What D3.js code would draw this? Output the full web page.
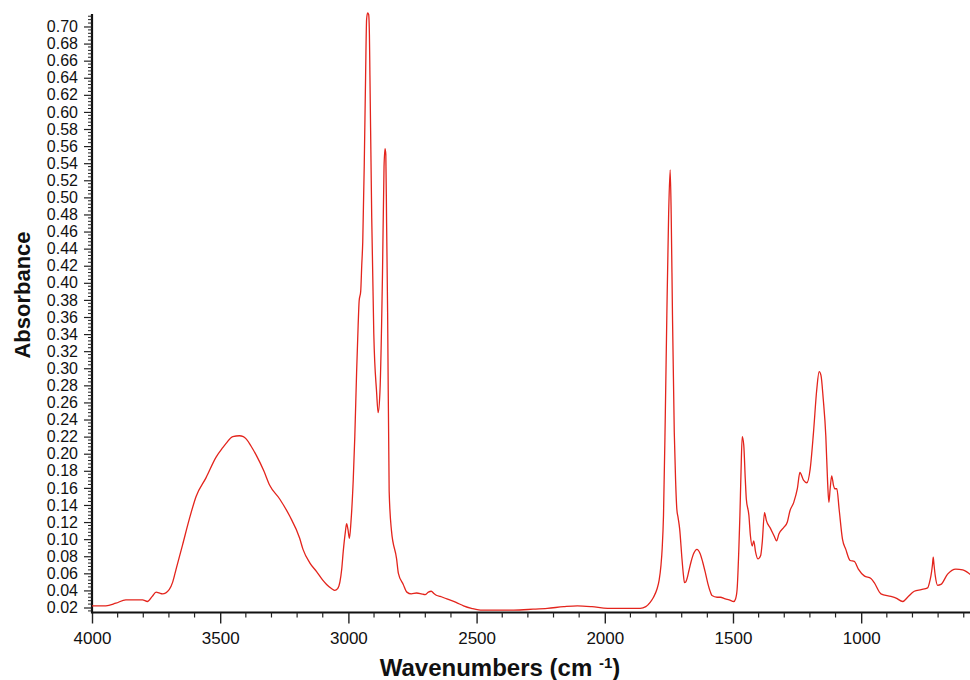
<!DOCTYPE html>
<html>
<head>
<meta charset="utf-8">
<script src="https://cdn.jsdelivr.net/npm/d3@7"></script>
<style>
  html, body { margin: 0; padding: 0; background: #ffffff; }
  svg { display: block; font-family: "Liberation Sans", Arial, Helvetica, sans-serif; }
</style>
</head>
<body>
<svg id="chart" width="970" height="680"></svg>
<script>
// Wavenumbers (cm-1)
const wavenumbers = [
  4000, 3946, 3907, 3868, 3830, 3803, 3784, 3765, 3750, 3738, 3725, 3699, 3685, 3672, 3647, 3620, 3594, 3555, 3516, 3490,
  3477, 3451, 3425, 3410, 3398, 3380, 3359, 3330, 3307, 3268, 3229, 3190, 3177, 3150, 3124, 3100, 3085, 3065, 3053, 3042,
  3033, 3026, 3020, 3012, 3007, 3002, 2996, 2990, 2981, 2975, 2968, 2962, 2958, 2952, 2948, 2944, 2938, 2933, 2929, 2925,
  2921, 2918, 2916, 2909, 2901, 2890, 2884, 2877, 2867, 2861, 2857, 2854, 2851, 2847, 2841, 2832, 2812, 2805, 2786, 2772,
  2755, 2734, 2715, 2701, 2688, 2677, 2665, 2655, 2642, 2616, 2580, 2551, 2520, 2485, 2420, 2355, 2280, 2224, 2160, 2107,
  2050, 1989, 1920, 1862, 1840, 1823, 1810, 1797, 1788, 1781, 1776, 1771, 1764, 1758, 1751, 1745, 1741, 1736, 1729, 1724,
  1719, 1714, 1708, 1699, 1694, 1689, 1684, 1680, 1672, 1664, 1652, 1641, 1628, 1618, 1608, 1598, 1588, 1582, 1562, 1549,
  1530, 1515, 1497, 1490, 1484, 1477, 1473, 1469, 1464, 1458, 1452, 1448, 1438, 1432, 1425, 1419, 1412, 1403, 1392, 1386,
  1377, 1370, 1353, 1340, 1330, 1321, 1301, 1288, 1278, 1263, 1249, 1239, 1225, 1212, 1199, 1186, 1173, 1164, 1157, 1148,
  1138, 1131, 1126, 1121, 1115, 1108, 1103, 1095, 1086, 1073, 1060, 1043, 1027, 1011, 988, 962, 949, 923, 884, 864,
  838, 819, 793, 766, 741, 733, 728, 722, 719, 716, 711, 702, 689, 663, 631, 604, 572
];
// Absorbance values
const absorbance = [
  0.022, 0.022, 0.025, 0.029, 0.029, 0.029, 0.027, 0.033, 0.038, 0.037, 0.036, 0.041, 0.050, 0.065, 0.093, 0.124, 0.150, 0.172, 0.196, 0.207,
  0.212, 0.220, 0.221, 0.220, 0.217, 0.209, 0.198, 0.180, 0.163, 0.147, 0.127, 0.101, 0.088, 0.072, 0.062, 0.052, 0.047, 0.042, 0.040, 0.042,
  0.050, 0.065, 0.086, 0.108, 0.118, 0.112, 0.101, 0.120, 0.170, 0.220, 0.295, 0.350, 0.379, 0.390, 0.420, 0.448, 0.541, 0.640, 0.708, 0.716,
  0.714, 0.690, 0.643, 0.476, 0.341, 0.272, 0.248, 0.272, 0.411, 0.536, 0.557, 0.550, 0.470, 0.365, 0.156, 0.110, 0.077, 0.060, 0.047, 0.038,
  0.036, 0.037, 0.036, 0.035, 0.038, 0.039, 0.036, 0.034, 0.033, 0.030, 0.026, 0.022, 0.019, 0.017, 0.017, 0.017, 0.018, 0.019, 0.021, 0.022,
  0.021, 0.019, 0.019, 0.019, 0.021, 0.026, 0.032, 0.041, 0.052, 0.069, 0.090, 0.128, 0.245, 0.362, 0.480, 0.532, 0.480, 0.362, 0.225, 0.170,
  0.135, 0.125, 0.112, 0.077, 0.060, 0.049, 0.050, 0.053, 0.063, 0.073, 0.084, 0.088, 0.083, 0.073, 0.061, 0.048, 0.038, 0.034, 0.032, 0.032,
  0.030, 0.029, 0.027, 0.030, 0.041, 0.090, 0.128, 0.175, 0.220, 0.210, 0.170, 0.147, 0.128, 0.104, 0.092, 0.098, 0.085, 0.077, 0.081, 0.096,
  0.131, 0.122, 0.112, 0.104, 0.098, 0.106, 0.114, 0.120, 0.133, 0.143, 0.159, 0.178, 0.169, 0.166, 0.182, 0.225, 0.276, 0.296, 0.292, 0.264,
  0.221, 0.167, 0.143, 0.159, 0.174, 0.163, 0.159, 0.159, 0.135, 0.100, 0.088, 0.075, 0.074, 0.065, 0.057, 0.054, 0.049, 0.036, 0.033, 0.031,
  0.027, 0.032, 0.039, 0.041, 0.043, 0.050, 0.057, 0.070, 0.079, 0.070, 0.057, 0.046, 0.047, 0.059, 0.065, 0.064, 0.058
];
// Tick labels
const xMajorTicks = [4000, 3500, 3000, 2500, 2000, 1500, 1000];
const xMinorStep = 100;
const yMajorTicks = [0.02, 0.04, 0.06, 0.08, 0.10, 0.12, 0.14, 0.16, 0.18, 0.20, 0.22, 0.24, 0.26, 0.28, 0.30,
  0.32, 0.34, 0.36, 0.38, 0.40, 0.42, 0.44, 0.46, 0.48, 0.50, 0.52, 0.54, 0.56, 0.58, 0.60, 0.62, 0.64, 0.66, 0.68, 0.70];
const yMinorStep = 0.004;
const xTitle = "Wavenumbers (cm";
const xTitleSup = "-1";
const yTitle = "Absorbance";

const svg = d3.select("#chart");
const plotLeft = 92, plotRight = 970, plotTop = 14, plotBottom = 612.5;

const x = d3.scaleLinear().domain([4000, 575.6]).range([plotLeft, plotRight]);
const y = d3.scaleLinear().domain([0.01415, 0.7146]).range([plotBottom, plotTop]);

const data = wavenumbers.map((w, i) => ({ w, a: absorbance[i] }));

// minor ticks
const xMinor = d3.range(3900, 570, -xMinorStep).filter(v => xMajorTicks.indexOf(v) < 0);
const yMinor = d3.range(0, 180).map(k => +(0.016 + k * yMinorStep).toFixed(3))
  .filter(v => v <= 0.714 && Math.abs(Math.round(v * 50) - v * 50) > 1e-6);

// X axis
const gx = svg.append("g").attr("transform", `translate(0,${plotBottom})`);
gx.call(d3.axisBottom(x).tickValues(xMajorTicks).tickSize(11).tickSizeOuter(0).tickPadding(8).tickFormat(d3.format("d")));
gx.append("g").selectAll("line").data(xMinor).join("line")
  .attr("x1", d => x(d)).attr("x2", d => x(d)).attr("y1", 0).attr("y2", 5)
  .attr("stroke", "#222").attr("stroke-width", 1.2);
gx.select(".domain").attr("stroke", "#111").attr("stroke-width", 2.2).attr("d", `M${plotLeft},0H${plotRight}`);
gx.selectAll(".tick line").attr("stroke", "#222").attr("stroke-width", 1.4);
gx.selectAll(".tick text").attr("font-size", 17).attr("fill", "#111")
  .attr("font-family", "'Liberation Sans', Arial, sans-serif");

// Y axis
const gy = svg.append("g").attr("transform", `translate(${plotLeft},0)`);
gy.call(d3.axisLeft(y).tickValues(yMajorTicks).tickSize(8).tickSizeOuter(0).tickPadding(6).tickFormat(d3.format(".2f")));
gy.append("g").selectAll("line").data(yMinor).join("line")
  .attr("x1", 0).attr("x2", -4).attr("y1", d => y(d)).attr("y2", d => y(d))
  .attr("stroke", "#222").attr("stroke-width", 1);
gy.select(".domain").attr("stroke", "#111").attr("stroke-width", 2.2).attr("d", `M0,${plotTop}V${plotBottom + 1}`);
gy.selectAll(".tick line").attr("stroke", "#222").attr("stroke-width", 1.2);
gy.selectAll(".tick text").attr("font-size", 16).attr("fill", "#111")
  .attr("font-family", "'Liberation Sans', Arial, sans-serif");

// Spectrum line
const line = d3.line().x(d => x(d.w)).y(d => y(d.a)).curve(d3.curveMonotoneX);
svg.append("path").datum(data)
  .attr("fill", "none").attr("stroke", "#e3241c").attr("stroke-width", 1.3)
  .attr("stroke-linejoin", "round").attr("d", line);

// Axis titles
const xt = svg.append("text").attr("x", 500).attr("y", 676).attr("text-anchor", "middle")
  .attr("font-size", 24).attr("font-weight", "bold").attr("fill", "#111");
xt.append("tspan").text(xTitle + " ");
xt.append("tspan").attr("font-size", 15).attr("dy", -8).text(xTitleSup);
xt.append("tspan").attr("dy", 8).text(")");

svg.append("text").attr("transform", "translate(30,295) rotate(-90)").attr("text-anchor", "middle")
  .attr("font-size", 22).attr("font-weight", "bold").attr("fill", "#111").text(yTitle);
</script>
</body>
</html>
